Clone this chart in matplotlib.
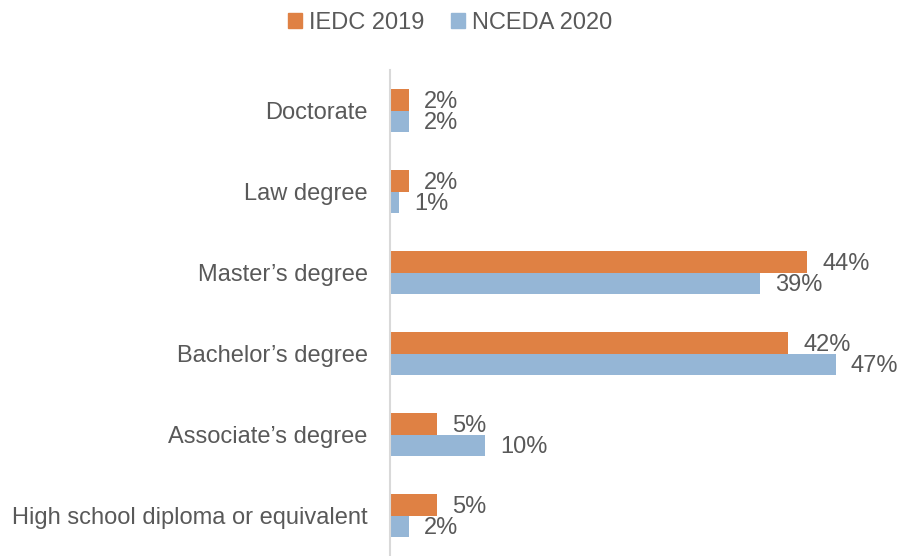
import numpy as np
import matplotlib.pyplot as plt
from matplotlib.patches import Patch

# Highest level of education, share of respondents
categories = ['Doctorate', 'Law degree', 'Master\u2019s degree', 'Bachelor\u2019s degree',
              'Associate\u2019s degree', 'High school diploma or equivalent']
iedc_2019 = [2, 2, 44, 42, 5, 5]
nceda_2020 = [2, 1, 39, 47, 10, 2]
series_names = ['IEDC 2019', 'NCEDA 2020']

ORANGE = '#DF8144'
BLUE = '#95B6D6'
TEXT = '#595959'

plt.rcParams['font.family'] = ['Liberation Sans', 'DejaVu Sans']

fig = plt.figure(figsize=(9, 5.56), dpi=100)
ax = fig.add_axes([390 / 900, 0, 474 / 900, 1 - 70 / 556])

y = np.arange(len(categories))
h = 0.26
bars1 = ax.barh(y - h / 2, iedc_2019, height=h, color=ORANGE)
bars2 = ax.barh(y + h / 2, nceda_2020, height=h, color=BLUE)

for bars, vals in [(bars1, iedc_2019), (bars2, nceda_2020)]:
    for b, v in zip(bars, vals):
        ax.annotate(f'{v}%', xy=(b.get_width(), b.get_y() + b.get_height() / 2),
                    xytext=(15, -2), textcoords='offset pixels',
                    ha='left', va='center', fontsize=17, color=TEXT)

ax.set_xlim(0, 50)
ax.set_ylim(len(categories) - 0.5, -0.5)
ax.set_yticks(y)
ax.set_yticklabels(categories, fontsize=17, color=TEXT)
ax.tick_params(axis='y', length=0, pad=16)
ax.set_xticks([])
for side in ['top', 'right', 'bottom']:
    ax.spines[side].set_visible(False)
ax.spines['left'].set_color('#D9D9D9')
ax.spines['left'].set_linewidth(1.5)

handles = [Patch(color=ORANGE), Patch(color=BLUE)]
fig.legend(handles, series_names, loc='upper center', bbox_to_anchor=(0.5, 1.017),
           ncol=2, frameon=False, fontsize=17, labelcolor=TEXT,
           handlelength=0.6, handleheight=0.6, handletextpad=0.3, columnspacing=1.1)

fig.savefig('out.png', dpi=100)
